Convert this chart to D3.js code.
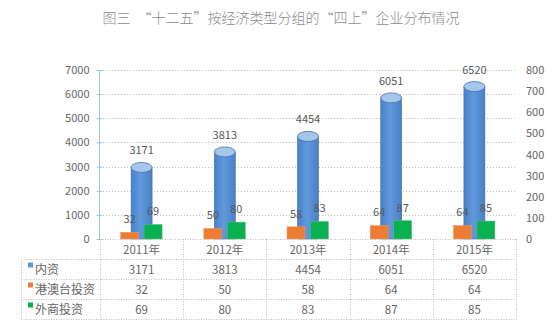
<!DOCTYPE html>
<html><head><meta charset="utf-8">
<script src="https://cdn.jsdelivr.net/npm/d3@7"></script>
<style>body{margin:0;background:#fff}svg{display:block}text{font-family:"Noto Sans CJK SC","Noto Sans",sans-serif}</style>
</head><body>
<script>
const years = ["2011年","2012年","2013年","2014年","2015年"];
const seriesNames = ["内资","港澳台投资","外商投资"];
const domestic = [3171,3813,4454,6051,6520];
const hkmt = [32,50,58,64,64];
const foreign = [69,80,83,87,85];
const leftTicks = [0,1000,2000,3000,4000,5000,6000,7000];
const rightTicks = [0,100,200,300,400,500,600,700,800];
const title = "图三　“十二五”按经济类型分组的“四上”企业分布情况";

const W=554,H=326;
const svg=d3.select("body").append("svg").attr("width",W).attr("height",H);
const defs=svg.append("defs");
const g1=defs.append("linearGradient").attr("id","cyl").attr("x1","0").attr("x2","1").attr("y1","0").attr("y2","0");
g1.append("stop").attr("offset","0").attr("stop-color","#4A80C8");
g1.append("stop").attr("offset","0.45").attr("stop-color","#6199DD");
g1.append("stop").attr("offset","1").attr("stop-color","#4A7FC6");

const x=d3.scaleBand().domain(years).range([100,516]);
const yL=d3.scaleLinear().domain([0,7000]).range([239,70]);
const yR=d3.scaleLinear().domain([0,800]).range([239,70]);
const grey="#666666";

svg.append("text").attr("x",281).attr("y",23).attr("text-anchor","middle")
  .attr("font-size",14).attr("font-weight",300).attr("fill","#8C8C8C").text(title);

// gridlines
svg.append("g").selectAll("line").data(leftTicks.filter(d=>d>0)).join("line")
  .attr("x1",100).attr("x2",516).attr("y1",d=>Math.round(yL(d))+0.5).attr("y2",d=>Math.round(yL(d))+0.5)
  .attr("stroke","#BFBFBF").attr("stroke-dasharray","1,2");

// left axis
const la=svg.append("g").attr("transform","translate(99.5,0)")
  .call(d3.axisLeft(yL).tickValues(leftTicks).tickSize(3).tickPadding(7).tickFormat(d3.format("d")));
la.select(".domain").attr("stroke","#9DC3E6").attr("d","M0,70V239");
la.selectAll(".tick line").attr("stroke","#9DC3E6").attr("x2",3).attr("x1",-3);
la.selectAll("text").attr("fill",grey).attr("font-size",11).attr("font-family","Noto Sans CJK SC");

// right axis
const ra=svg.append("g").attr("transform","translate(516,0)")
  .call(d3.axisRight(yR).tickValues(rightTicks).tickSize(0).tickPadding(10).tickFormat(d3.format("d")));
ra.select(".domain").remove();
ra.selectAll("text").attr("fill",grey).attr("font-size",11).attr("font-family","Noto Sans CJK SC");

// cylinders
const cw=21, ry=5;
const cyl=svg.append("g");
years.forEach((yr,i)=>{
  const c=x(yr)+x.bandwidth()/2, top=yL(domestic[i]);
  cyl.append("rect").attr("x",c-cw/2).attr("y",top+ry).attr("width",cw).attr("height",239-top-ry)
    .attr("fill","url(#cyl)").attr("stroke","#4472B0").attr("stroke-width",0.6);
  cyl.append("ellipse").attr("cx",c).attr("cy",top+ry).attr("rx",cw/2).attr("ry",ry)
    .attr("fill","#A7C7EA").attr("stroke","#4472B0").attr("stroke-width",0.8);
  cyl.append("text").attr("x",c).attr("y",top-8).attr("text-anchor","middle")
    .attr("font-size",11).attr("fill","#595959").text(domestic[i]);
});

// bars
const bw=18;
svg.append("g").selectAll("rect").data(hkmt).join("rect")
  .attr("x",(d,i)=>x(years[i])+x.bandwidth()/2-21).attr("width",bw)
  .attr("y",d=>yR(d)).attr("height",d=>239-yR(d)).attr("fill","#EE7D33").attr("stroke","#E0A070").attr("stroke-width",0.5);
svg.append("g").selectAll("rect").data(foreign).join("rect")
  .attr("x",(d,i)=>x(years[i])+x.bandwidth()/2+2.5).attr("width",bw)
  .attr("y",d=>yR(d)).attr("height",d=>239-yR(d)).attr("fill","#0AB150").attr("stroke","#60C080").attr("stroke-width",0.5);
svg.append("g").selectAll("text").data(hkmt).join("text")
  .attr("x",(d,i)=>x(years[i])+x.bandwidth()/2-12).attr("y",d=>yR(d)-9).attr("text-anchor","middle")
  .attr("font-size",11).attr("fill","#595959").text(d=>d);
svg.append("g").selectAll("text").data(foreign).join("text")
  .attr("x",(d,i)=>x(years[i])+x.bandwidth()/2+11.5).attr("y",d=>yR(d)-9).attr("text-anchor","middle")
  .attr("font-size",11).attr("fill","#595959").text(d=>d);

// table
const tg=svg.append("g").attr("stroke","#BFBFBF").attr("stroke-dasharray","1,1.5");
tg.append("line").attr("x1",100).attr("x2",516).attr("y1",239.5).attr("y2",239.5);
[259.5,279.5,299.5,319.5].forEach(y=>tg.append("line").attr("x1",21).attr("x2",516).attr("y1",y).attr("y2",y));
d3.range(years.length+1).forEach(i=>{
  const xx=Math.round(x.range()[0]+i*x.step())+0.5;
  tg.append("line").attr("x1",xx).attr("x2",xx).attr("y1",239).attr("y2",319.5);
});
tg.append("line").attr("x1",21.5).attr("x2",21.5).attr("y1",259.5).attr("y2",319.5);

svg.append("g").selectAll("text").data(years).join("text")
  .attr("x",d=>x(d)+x.bandwidth()/2).attr("y",253.5).attr("text-anchor","middle")
  .attr("font-size",11.5).attr("fill",grey).text(d=>d);
const rows=[domestic,hkmt,foreign], colors=["#5B9BD5","#ED7D31","#00B050"];
rows.forEach((row,r)=>{
  const yy=269.5+r*20;
  svg.append("rect").attr("x",28).attr("y",yy-7).attr("width",5).attr("height",5).attr("fill",colors[r]);
  svg.append("text").attr("x",35).attr("y",yy+4).attr("font-size",12).attr("fill",grey).text(seriesNames[r]);
  svg.append("g").selectAll("text").data(row).join("text")
    .attr("x",(d,i)=>x(years[i])+x.bandwidth()/2).attr("y",yy+4).attr("text-anchor","middle")
    .attr("font-size",11.5).attr("fill",grey).text(d=>d);
});
</script>
</body></html>
